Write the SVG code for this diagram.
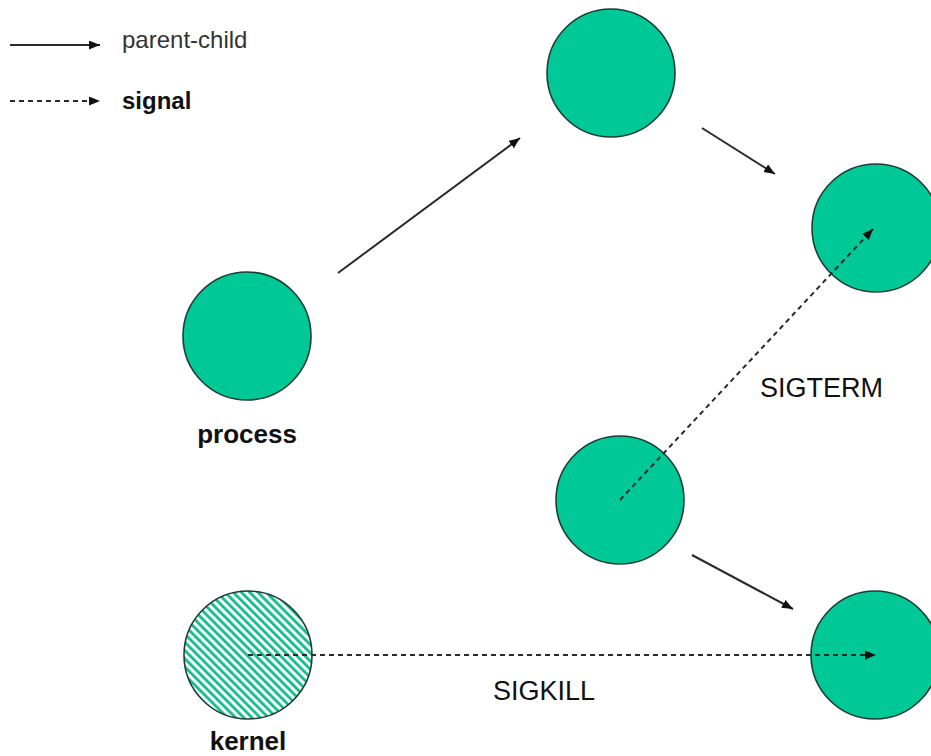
<svg xmlns="http://www.w3.org/2000/svg" width="931" height="756" viewBox="0 0 931 756">
<style>
.node{fill:#00C896;stroke:#1e3d33;stroke-width:1.6}
.kern{fill:url(#hatch);stroke:#1e3d33;stroke-width:1.6}
.solid{stroke:#2a2a2a;stroke-width:2;fill:none;marker-end:url(#ah)}
.dash{stroke:#2a2a2a;stroke-width:2;fill:none;stroke-dasharray:5 4;marker-end:url(#ah)}
.lbl{font-family:"Liberation Sans",Arial,sans-serif;fill:#111}
.b{font-weight:bold}
</style>
<defs>
<marker id="ah" markerUnits="userSpaceOnUse" markerWidth="12" markerHeight="10" refX="11" refY="4.5" orient="auto">
<path d="M0,0 L11,4.5 L0,9 z" fill="#111"/>
</marker>
<pattern id="hatch" patternUnits="userSpaceOnUse" width="5.8" height="6" patternTransform="rotate(-45)">
<rect width="5.8" height="6" fill="#f4fffb"/>
<rect width="2.7" height="6" fill="#12b98a"/>
</pattern>
</defs>
<rect width="931" height="756" fill="#ffffff"/>
<g id="legend">
<line class="solid" x1="10" y1="45" x2="100" y2="45"/>
<text class="lbl" x="122" y="48" font-size="24" style="fill:#333">parent-child</text>
<line class="dash" x1="10" y1="101" x2="100" y2="101"/>
<text class="lbl b" x="122" y="109" font-size="24">signal</text>
</g>
<g id="node-process">
<circle class="node" cx="247" cy="336" r="64"/>
<text class="lbl b" x="247" y="443" font-size="26" text-anchor="middle">process</text>
</g>
<g id="node-top">
<circle class="node" cx="611" cy="73" r="64"/>
</g>
<g id="node-right-top">
<circle class="node" cx="876" cy="228" r="64"/>
</g>
<g id="node-middle">
<circle class="node" cx="620" cy="500" r="64"/>
</g>
<g id="node-right-bottom">
<circle class="node" cx="875" cy="655" r="64"/>
</g>
<g id="node-kernel">
<circle class="kern" cx="248" cy="655" r="64"/>
<text class="lbl b" x="248" y="750" font-size="26" text-anchor="middle">kernel</text>
</g>
<g id="connectors">
<line class="solid" x1="338" y1="273" x2="520" y2="138"/>
<line class="solid" x1="702" y1="128" x2="775" y2="174"/>
<line class="solid" x1="692" y1="555" x2="793" y2="609"/>
<line class="dash" x1="620" y1="500" x2="873" y2="229"/>
<line class="dash" x1="248" y1="655" x2="876" y2="655"/>
<text class="lbl" x="760" y="397" font-size="27">SIGTERM</text>
<text class="lbl" x="493" y="700" font-size="27">SIGKILL</text>
</g>
</svg>
